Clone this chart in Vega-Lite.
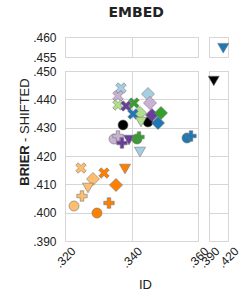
{
  "$schema": "https://vega.github.io/schema/vega-lite/v6.json",
  "padding": {"left": 17, "top": 5, "right": 5, "bottom": 5},
  "title": {"text": "EMBED", "anchor": "start", "dx": 91, "offset": 11, "font": "DejaVu Sans", "fontSize": 14, "fontWeight": "bold", "color": "#222222"},
  "datasets": {
    "pts": [
      {"id": 0.32481, "brier": 0.41576, "m": "lightorange", "s": "x"},
      {"id": 0.32842, "brier": 0.41188, "m": "lightorange", "s": "diamond"},
      {"id": 0.32692, "brier": 0.40871, "m": "lightorange", "s": "triangle"},
      {"id": 0.32511, "brier": 0.40588, "m": "lightorange", "s": "plus"},
      {"id": 0.32271, "brier": 0.40235, "m": "lightorange", "s": "circle"},
      {"id": 0.33173, "brier": 0.41400, "m": "orange", "s": "x"},
      {"id": 0.33805, "brier": 0.41541, "m": "orange", "s": "triangle"},
      {"id": 0.33534, "brier": 0.40976, "m": "orange", "s": "diamond"},
      {"id": 0.33323, "brier": 0.40341, "m": "orange", "s": "plus"},
      {"id": 0.32962, "brier": 0.39988, "m": "orange", "s": "circle"},
      {"id": 0.33474, "brier": 0.42600, "m": "lightpurple", "s": "circle"},
      {"id": 0.33594, "brier": 0.42706, "m": "lightpurple", "s": "plus"},
      {"id": 0.33925, "brier": 0.42565, "m": "purple", "s": "triangle"},
      {"id": 0.33714, "brier": 0.42459, "m": "purple", "s": "plus"},
      {"id": 0.34165, "brier": 0.42600, "m": "green", "s": "circle"},
      {"id": 0.34226, "brier": 0.42671, "m": "green", "s": "plus"},
      {"id": 0.34256, "brier": 0.42141, "m": "lightblue", "s": "triangle"},
      {"id": 0.33745, "brier": 0.43094, "m": "black", "s": "circle"},
      {"id": 0.34496, "brier": 0.43200, "m": "black", "s": "circle"},
      {"id": 0.33684, "brier": 0.44400, "m": "lightblue", "s": "x"},
      {"id": 0.33594, "brier": 0.44118, "m": "lightpurple", "s": "x"},
      {"id": 0.33594, "brier": 0.43800, "m": "lightgreen", "s": "x"},
      {"id": 0.33835, "brier": 0.43765, "m": "purple", "s": "x"},
      {"id": 0.34075, "brier": 0.43871, "m": "green", "s": "x"},
      {"id": 0.34496, "brier": 0.44188, "m": "lightblue", "s": "diamond"},
      {"id": 0.34556, "brier": 0.43871, "m": "lightpurple", "s": "diamond"},
      {"id": 0.34256, "brier": 0.43518, "m": "lightgreen", "s": "diamond"},
      {"id": 0.34045, "brier": 0.43482, "m": "blue", "s": "x"},
      {"id": 0.34286, "brier": 0.43200, "m": "lightgreen", "s": "triangle"},
      {"id": 0.34617, "brier": 0.43447, "m": "purple", "s": "diamond"},
      {"id": 0.34797, "brier": 0.43165, "m": "blue", "s": "diamond"},
      {"id": 0.34887, "brier": 0.43518, "m": "green", "s": "diamond"},
      {"id": 0.35669, "brier": 0.42635, "m": "blue", "s": "circle"},
      {"id": 0.35790, "brier": 0.42706, "m": "blue", "s": "plus"},
      {"id": 0.41250, "brier": 0.45720, "m": "blue", "s": "triangle"},
      {"id": 0.39750, "brier": 0.44647, "m": "black", "s": "triangle"}
    ]
  },
  "columns": 2,
  "spacing": {"row": 14, "column": 11},
  "bounds": "flush",
  "align": "each",
  "resolve": {"scale": {"x": "independent", "y": "independent", "color": "shared", "shape": "shared"}},
  "concat": [
    {
      "width": 133, "height": 20,
      "layer": [
        {
          "data": {"name": "pts"},
          "transform": [{"filter": {"and": [{"field": "id", "range": [0.3, 0.37]}, {"field": "brier", "range": [0.455, 0.47]}]}}],
          "mark": {"type": "point", "filled": true, "opacity": 1, "size": 170, "stroke": "#777777", "strokeWidth": 0.6},
          "encoding": {
            "x": {"field": "id", "type": "quantitative", "scale": {"domain": [0.32, 0.36], "nice": false, "zero": false},
                  "axis": {"values": [0.32, 0.34, 0.36], "labels": false, "title": null, "grid": true}},
            "y": {"field": "brier", "type": "quantitative", "scale": {"domain": [0.455, 0.46], "nice": false, "zero": false},
                  "axis": {"values": [0.455, 0.46], "labelExpr": "substring(format(datum.value, '.3f'), 1)", "labelPadding": 9, "labelOverlap": false,
                           "title": "BRIER", "titleFontWeight": "bold", "titleX": -37, "titleY": 128, "titleAlign": "center", "titleBaseline": "alphabetic", "titleAngle": 270}},
            "color": {"field": "m", "type": "nominal", "legend": null,
                      "scale": {"domain": ["lightblue", "blue", "lightgreen", "green", "lightpurple", "purple", "lightorange", "orange", "black"],
                                "range": ["#a6cee3", "#1f78b4", "#b2df8a", "#33a02c", "#cab2d6", "#6a3d9a", "#fdbf6f", "#ff7f00", "#000000"]}},
            "shape": {"field": "s", "type": "nominal", "legend": null,
                      "scale": {"domain": ["circle", "plus", "x", "diamond", "triangle"],
                                "range": ["M0.77,0L0.711,0.295L0.544,0.544L0.295,0.711L0,0.77L-0.295,0.711L-0.544,0.544L-0.711,0.295L-0.77,0L-0.711,-0.295L-0.544,-0.544L-0.295,-0.711L0,-0.77L0.295,-0.711L0.544,-0.544L0.711,-0.295Z",
                                          "M-0.27,-0.8H0.27V-0.27H0.8V0.27H0.27V0.8H-0.27V0.27H-0.8V-0.27H-0.27Z",
                                          "M0.43,-0.8L0.8,-0.43L0.37,0L0.8,0.43L0.43,0.8L0,0.37L-0.43,0.8L-0.8,0.43L-0.37,0L-0.8,-0.43L-0.43,-0.8L0,-0.37Z",
                                          "M0,-1L1,0L0,1L-1,0Z",
                                          "M-0.85,-0.74L0.85,-0.74L0,0.74Z"]}}
          }
        },
        {
          "mark": {"type": "rule", "color": "#111111", "strokeWidth": 1.5},
          "encoding": {"y": {"datum": 0.455}, "x": {"datum": 0.3185}, "x2": {"datum": 0.3212}}
        }
      ]
    },
    {
      "width": 19, "height": 20,
      "data": {"name": "pts"},
      "transform": [{"filter": {"and": [{"field": "id", "range": [0.385, 0.43]}, {"field": "brier", "range": [0.455, 0.47]}]}}],
      "mark": {"type": "point", "filled": true, "opacity": 1, "size": 170, "stroke": "#777777", "strokeWidth": 0.6},
      "encoding": {
        "x": {"field": "id", "type": "quantitative", "scale": {"domain": [0.39, 0.42], "nice": false, "zero": false},
              "axis": {"values": [0.39, 0.42], "labels": false, "title": null, "grid": true}},
        "y": {"field": "brier", "type": "quantitative", "scale": {"domain": [0.455, 0.46], "nice": false, "zero": false},
              "axis": {"values": [0.455, 0.46], "labels": false, "title": null, "grid": true}},
        "color": {"field": "m", "type": "nominal", "legend": null},
        "shape": {"field": "s", "type": "nominal", "legend": null}
      }
    },
    {
      "width": 133, "height": 170,
      "layer": [
        {
          "data": {"name": "pts"},
          "transform": [{"filter": {"and": [{"field": "id", "range": [0.3, 0.37]}, {"field": "brier", "range": [0.38, 0.4505]}]}}],
          "mark": {"type": "point", "filled": true, "opacity": 1, "size": 170, "stroke": "#777777", "strokeWidth": 0.6},
          "encoding": {
            "x": {"field": "id", "type": "quantitative", "scale": {"domain": [0.32, 0.36], "nice": false, "zero": false},
                  "axis": {"values": [0.32, 0.34, 0.36], "labelExpr": "substring(format(datum.value, '.3f'), 1)", "labelAngle": -45, "labelAlign": "center", "labelBaseline": "middle", "labelPadding": 16, "labelFlush": false, "labelOverlap": false,
                           "title": "ID", "titleX": 80, "titleY": 47, "titleAlign": "center", "titleBaseline": "alphabetic"}},
            "y": {"field": "brier", "type": "quantitative", "scale": {"domain": [0.39, 0.45], "nice": false, "zero": false},
                  "axis": {"values": [0.39, 0.40, 0.41, 0.42, 0.43, 0.44, 0.45], "labelExpr": "substring(format(datum.value, '.3f'), 1)", "labelPadding": 9, "labelOverlap": false,
                           "title": "- SHIFTED", "titleX": -37, "titleY": 38.6, "titleAlign": "center", "titleBaseline": "alphabetic", "titleAngle": 270}},
            "color": {"field": "m", "type": "nominal", "legend": null},
            "shape": {"field": "s", "type": "nominal", "legend": null}
          }
        },
        {
          "mark": {"type": "rule", "color": "#111111", "strokeWidth": 1.5},
          "encoding": {
            "x": {"datum": 0.36,
                  "axis": {"values": [0.32, 0.34, 0.36], "labelExpr": "substring(format(datum.value, '.3f'), 1)", "labelAngle": -45, "labelAlign": "center", "labelBaseline": "middle", "labelPadding": 16, "labelFlush": false, "labelOverlap": false,
                           "title": "ID", "titleX": 80, "titleY": 47, "titleAlign": "center", "titleBaseline": "alphabetic"}},
            "y": {"datum": 0.3878,
                  "axis": {"values": [0.39, 0.40, 0.41, 0.42, 0.43, 0.44, 0.45], "labelExpr": "substring(format(datum.value, '.3f'), 1)", "labelPadding": 9, "labelOverlap": false,
                           "title": "- SHIFTED", "titleX": -37, "titleY": 38.6, "titleAlign": "center", "titleBaseline": "alphabetic", "titleAngle": 270}},
            "y2": {"datum": 0.392}
          }
        }
      ]
    },
    {
      "width": 19, "height": 170,
      "data": {"name": "pts"},
      "transform": [{"filter": {"and": [{"field": "id", "range": [0.385, 0.43]}, {"field": "brier", "range": [0.38, 0.4505]}]}}],
      "mark": {"type": "point", "filled": true, "opacity": 1, "size": 170, "stroke": "#777777", "strokeWidth": 0.6},
      "encoding": {
        "x": {"field": "id", "type": "quantitative", "scale": {"domain": [0.39, 0.42], "nice": false, "zero": false},
              "axis": {"values": [0.39, 0.42], "labelExpr": "substring(format(datum.value, '.3f'), 1)", "labelAngle": -45, "labelAlign": "center", "labelBaseline": "middle", "labelPadding": 16, "labelFlush": false, "labelOverlap": false, "title": null}},
        "y": {"field": "brier", "type": "quantitative", "scale": {"domain": [0.39, 0.45], "nice": false, "zero": false},
              "axis": {"values": [0.39, 0.40, 0.41, 0.42, 0.43, 0.44, 0.45], "labels": false, "title": null}},
        "color": {"field": "m", "type": "nominal", "legend": null},
        "shape": {"field": "s", "type": "nominal", "legend": null}
      }
    }
  ],
  "config": {
    "view": {"stroke": "#cccccc", "strokeWidth": 1},
    "axis": {"labelFont": "Liberation Sans", "labelFontSize": 12, "labelColor": "#222222", "labelOverlap": false, "ticks": false, "domain": false, "grid": true, "gridColor": "#d6d6d6", "gridOpacity": 1,
             "titleFont": "Liberation Sans", "titleFontSize": 13, "titleColor": "#222222", "titleFontWeight": "normal"}
  }
}
